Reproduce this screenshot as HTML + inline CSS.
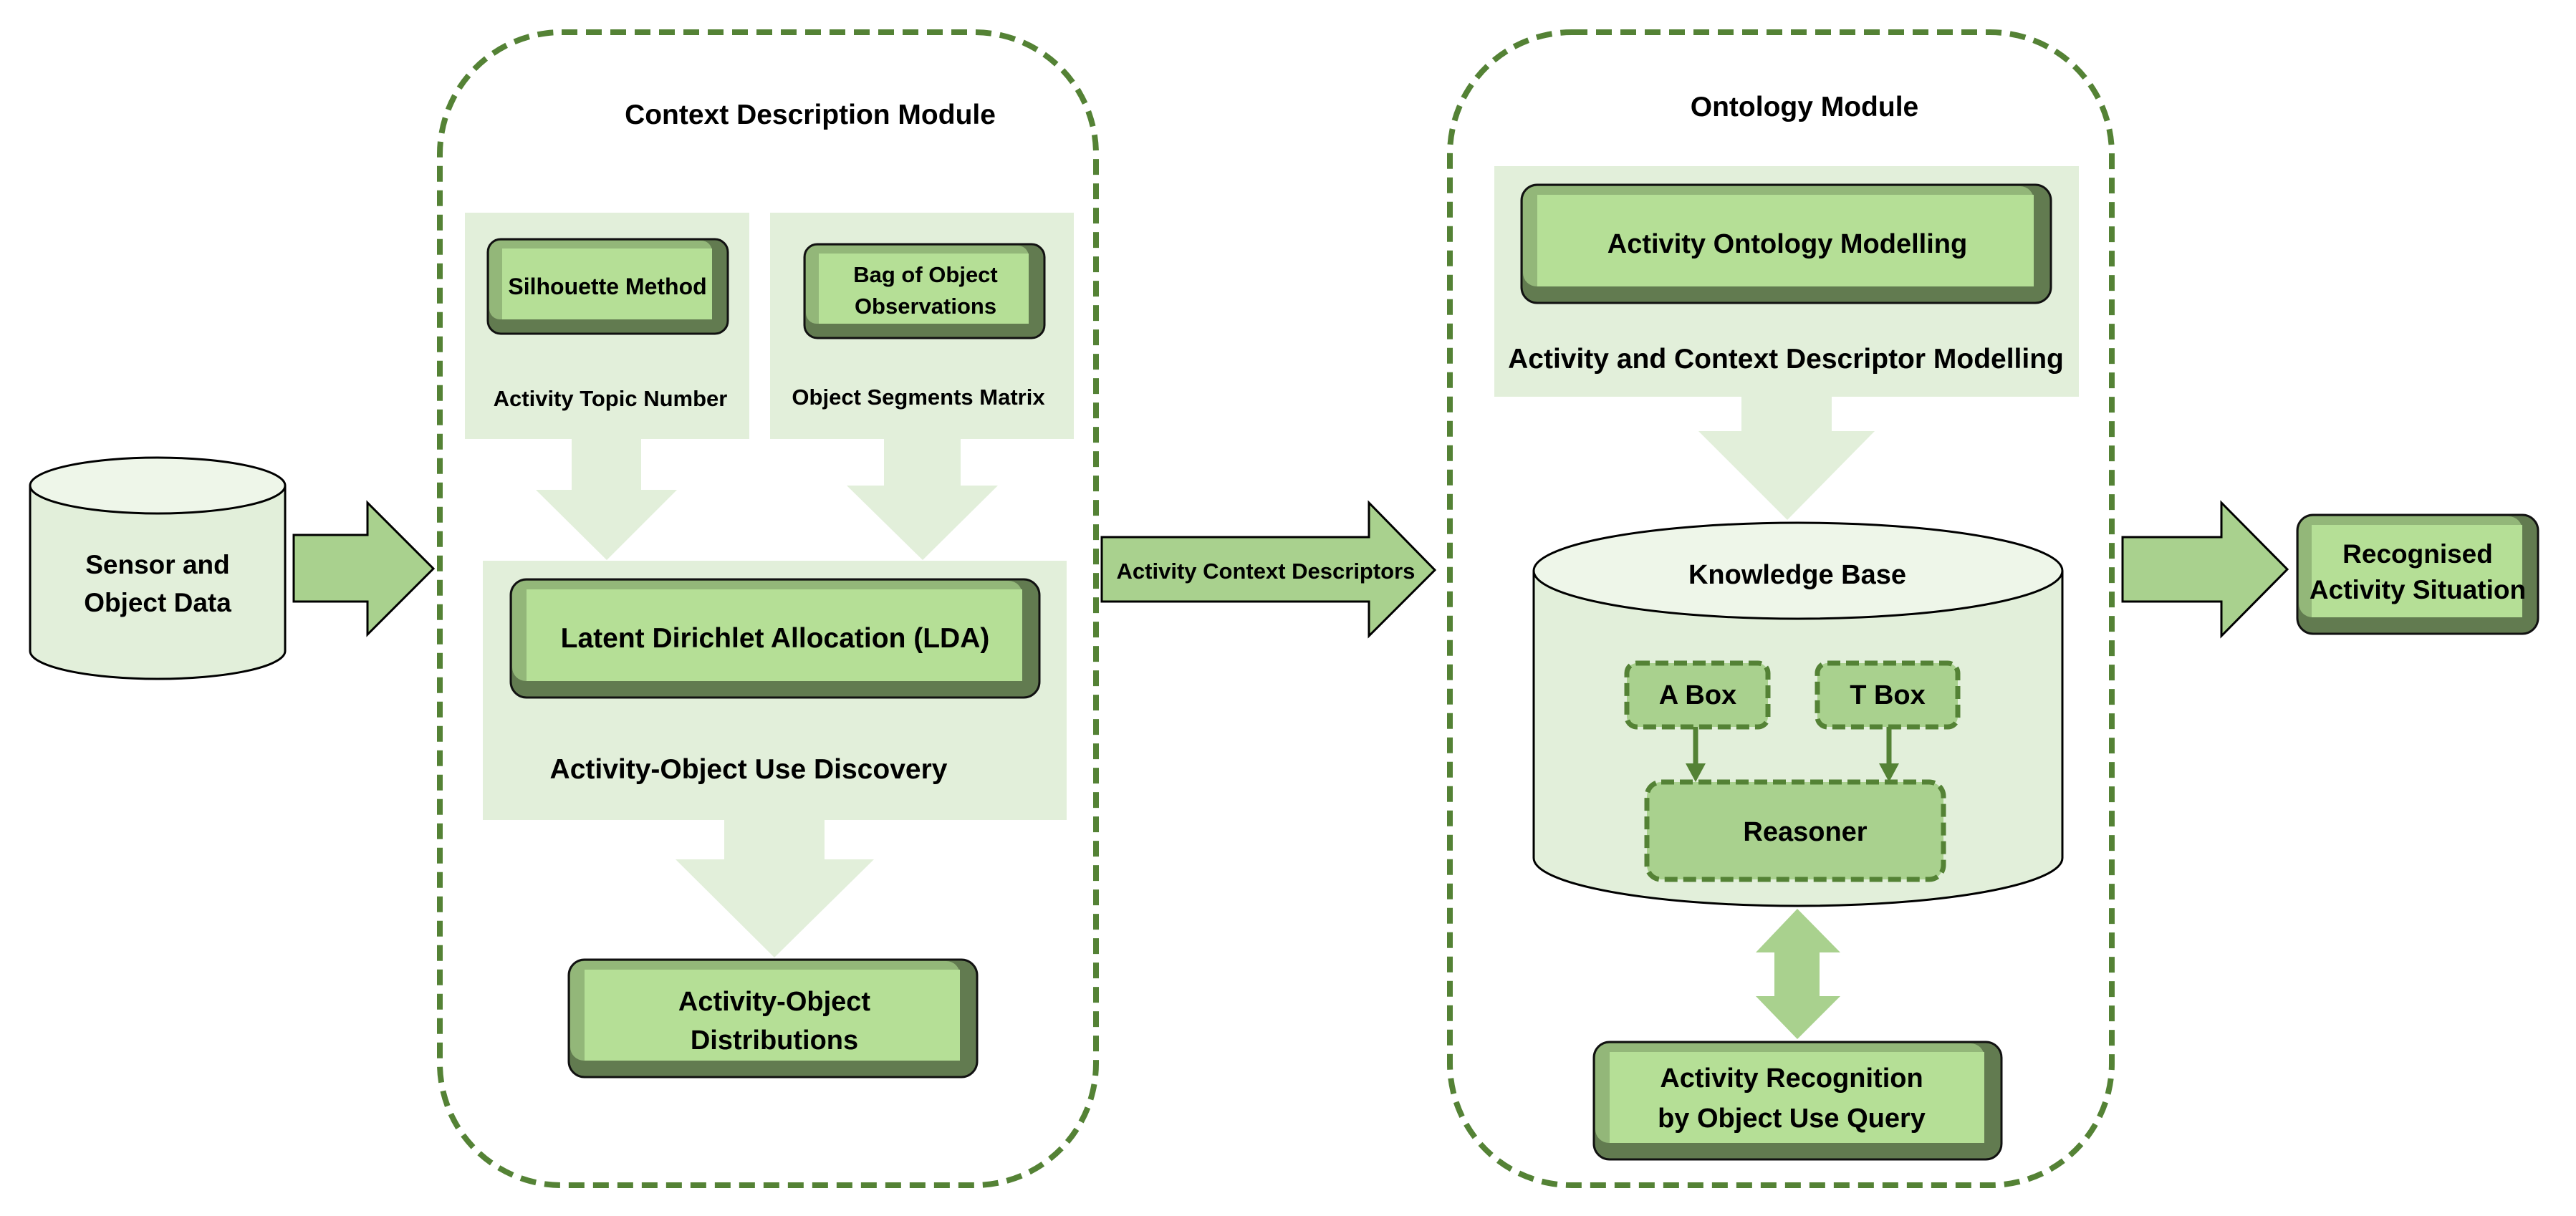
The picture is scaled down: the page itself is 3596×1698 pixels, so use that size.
<!DOCTYPE html>
<html><head><meta charset="utf-8"><style>
html,body{margin:0;padding:0;background:#fff;}
svg{display:block;}
text{font-family:"Liberation Sans",sans-serif;font-weight:bold;fill:#000;text-anchor:middle;}
</style></head><body>
<svg width="3596" height="1698" viewBox="0 0 3596 1698" xmlns="http://www.w3.org/2000/svg">
<!-- Module boxes -->
<rect x="614" y="45" width="916" height="1610" rx="170" fill="none" stroke="#548235" stroke-width="8" stroke-dasharray="22,12"/>
<rect x="2024" y="45" width="924" height="1610" rx="170" fill="none" stroke="#548235" stroke-width="8" stroke-dasharray="22,12"/>
<text x="1131" y="173" font-size="39">Context Description Module</text>
<text x="2519" y="162" font-size="39">Ontology Module</text>

<!-- Panels -->
<rect x="649" y="297" width="397" height="316" fill="#e2efda"/>
<rect x="1075" y="297" width="424" height="316" fill="#e2efda"/>
<rect x="674" y="783" width="815" height="362" fill="#e2efda"/>
<rect x="2086" y="232" width="816" height="322" fill="#e2efda"/>

<!-- Light arrows -->
<polygon points="798,613 895,613 895,684 945,684 847,782 748,684 798,684" fill="#e2efda"/>
<polygon points="1234,613 1341,613 1341,678 1393,678 1288,782 1182,678 1234,678" fill="#e2efda"/>
<polygon points="1011,1145 1151,1145 1151,1200 1220,1200 1081,1337 943,1200 1011,1200" fill="#e2efda"/>
<polygon points="2431,554 2557,554 2557,602 2617,602 2495,726 2371,602 2431,602" fill="#e2efda"/>

<!-- Buttons -->
<g>
<rect x="681" y="334" width="335" height="132" rx="18" fill="#627b50" stroke="#111" stroke-width="3"/>
<rect x="683" y="336" width="311" height="110" rx="15" fill="#93b779"/>
<rect x="701" y="347" width="293" height="99" fill="#b5df96"/>
<text x="848" y="411" font-size="32">Silhouette Method</text>

<rect x="1123" y="341" width="335" height="131" rx="18" fill="#627b50" stroke="#111" stroke-width="3"/>
<rect x="1125" y="343" width="311" height="109" rx="15" fill="#93b779"/>
<rect x="1143" y="354" width="293" height="98" fill="#b5df96"/>
<text x="1292" y="394" font-size="31">Bag of Object</text>
<text x="1292" y="438" font-size="31">Observations</text>

<rect x="713" y="809" width="738" height="165" rx="22" fill="#627b50" stroke="#111" stroke-width="3"/>
<rect x="715" y="811" width="712" height="140" rx="19" fill="#93b779"/>
<rect x="735" y="823" width="692" height="128" fill="#b5df96"/>
<text x="1082" y="904" font-size="39">Latent Dirichlet Allocation (LDA)</text>

<rect x="794" y="1340" width="570" height="164" rx="22" fill="#627b50" stroke="#111" stroke-width="3"/>
<rect x="796" y="1342" width="544" height="139" rx="19" fill="#93b779"/>
<rect x="816" y="1354" width="524" height="127" fill="#b5df96"/>
<text x="1081" y="1411" font-size="38">Activity-Object</text>
<text x="1081" y="1465" font-size="38">Distributions</text>

<rect x="2124" y="258" width="739" height="165" rx="22" fill="#627b50" stroke="#111" stroke-width="3"/>
<rect x="2126" y="260" width="713" height="140" rx="19" fill="#93b779"/>
<rect x="2146" y="272" width="693" height="128" fill="#b5df96"/>
<text x="2495" y="353" font-size="38">Activity Ontology Modelling</text>

<rect x="2225" y="1455" width="569" height="164" rx="22" fill="#627b50" stroke="#111" stroke-width="3"/>
<rect x="2227" y="1457" width="543" height="139" rx="19" fill="#93b779"/>
<rect x="2247" y="1469" width="523" height="127" fill="#b5df96"/>
<text x="2501" y="1518" font-size="38">Activity Recognition</text>
<text x="2501" y="1574" font-size="38">by Object Use Query</text>

<rect x="3207" y="719" width="336" height="166" rx="22" fill="#627b50" stroke="#111" stroke-width="3"/>
<rect x="3209" y="721" width="312" height="141" rx="19" fill="#93b779"/>
<rect x="3227" y="733" width="294" height="129" fill="#b5df96"/>
<text x="3375" y="786" font-size="37">Recognised</text>
<text x="3375" y="836" font-size="37">Activity Situation</text>
</g>

<text x="852" y="567" font-size="31">Activity Topic Number</text>
<text x="1282" y="565" font-size="31">Object Segments Matrix</text>
<text x="1045" y="1087" font-size="39">Activity-Object Use Discovery</text>
<text x="2493" y="514" font-size="39">Activity and Context Descriptor Modelling</text>

<!-- Sensor cylinder -->
<path d="M42,678 L42,909 A178,39 0 0 0 398,909 L398,678" fill="#e2efda" stroke="#000" stroke-width="3"/>
<ellipse cx="220" cy="678" rx="178" ry="39" fill="#eef6e9" stroke="#000" stroke-width="3"/>
<text x="220" y="801" font-size="37">Sensor and</text>
<text x="220" y="854" font-size="37">Object Data</text>

<!-- Knowledge base cylinder -->
<path d="M2141,797 L2141,1198 A369,67 0 0 0 2879,1198 L2879,797" fill="#e2efda" stroke="#000" stroke-width="3"/>
<ellipse cx="2510" cy="797" rx="369" ry="67" fill="#eef6e9" stroke="#000" stroke-width="3"/>
<text x="2509" y="815" font-size="38">Knowledge Base</text>

<rect x="2271" y="926" width="197" height="89" rx="14" fill="#a9d18e" stroke="#548235" stroke-width="7" stroke-dasharray="18,8"/>
<text x="2370" y="983" font-size="38">A Box</text>
<rect x="2537" y="926" width="196" height="89" rx="14" fill="#a9d18e" stroke="#548235" stroke-width="7" stroke-dasharray="18,8"/>
<text x="2635" y="983" font-size="38">T Box</text>
<rect x="2299" y="1092" width="414" height="136" rx="20" fill="#a9d18e" stroke="#548235" stroke-width="7" stroke-dasharray="18,8"/>
<text x="2520" y="1174" font-size="38">Reasoner</text>
<line x1="2367" y1="1015" x2="2367" y2="1070" stroke="#548235" stroke-width="7"/>
<polygon points="2353,1066 2381,1066 2367,1092" fill="#548235"/>
<line x1="2637" y1="1015" x2="2637" y2="1070" stroke="#548235" stroke-width="7"/>
<polygon points="2623,1066 2651,1066 2637,1092" fill="#548235"/>

<!-- Double arrow -->
<polygon points="2509,1269 2569,1330 2540,1330 2540,1391 2569,1391 2509,1451 2451,1391 2477,1391 2477,1330 2451,1330" fill="#a9d18e"/>

<!-- Big green arrows -->
<polygon points="410,747 513,747 513,702 605,794 513,886 513,840 410,840" fill="#a9d18e" stroke="#000" stroke-width="3"/>
<polygon points="1538,750 1911,750 1911,702 2003,796 1911,888 1911,840 1538,840" fill="#a9d18e" stroke="#000" stroke-width="3"/>
<text x="1767" y="808" font-size="31">Activity Context Descriptors</text>
<polygon points="2963,750 3101,750 3101,702 3193,795 3101,888 3101,840 2963,840" fill="#a9d18e" stroke="#000" stroke-width="3"/>
</svg>
</body></html>
